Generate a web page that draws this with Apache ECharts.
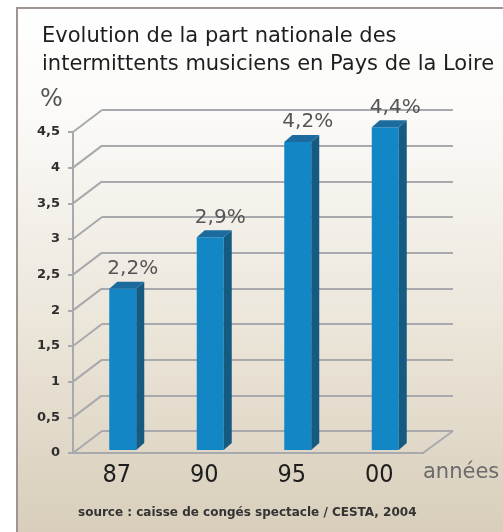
<!DOCTYPE html>
<html>
<head>
<meta charset="utf-8">
<script src="https://cdn.jsdelivr.net/npm/echarts@6/dist/echarts.min.js"></script>
<style>
  html, body { margin: 0; padding: 0; background: #fff; }
  #chart { width: 503px; height: 532px; }
</style>
</head>
<body>
<div id="chart"></div>
<script>
// données
var categories = ['87', '90', '95', '00'];
var values = [2.2, 2.9, 4.2, 4.4];
var yTicks = [0, 0.5, 1, 1.5, 2, 2.5, 3, 3.5, 4, 4.5];

var FONT = 'DejaVu Sans';
// profondeur de la perspective (px)
var DX = 29, DY = -22;

function virgule(v) {
    return String(v).replace('.', ',');
}

var myChart = echarts.init(document.getElementById('chart'));

var option = {
    backgroundColor: '#fff',
    animation: false,
    title: [
        {
            text: 'Evolution de la part nationale des\nintermittents musiciens en Pays de la Loire',
            left: 37,
            top: 18,
            textStyle: { fontFamily: FONT, fontSize: 21, fontWeight: 'normal', color: '#1e1e1e', lineHeight: 28 }
        },
        {
            text: 'source : caisse de congés spectacle / CESTA, 2004',
            left: 73,
            top: 502,
            textStyle: { fontFamily: FONT, fontSize: 12, fontWeight: 'bold', color: '#333' }
        }
    ],
    graphic: [
        {
            type: 'rect',
            z: -10,
            shape: { x: 17, y: 8, width: 520, height: 540 },
            style: {
                fill: new echarts.graphic.LinearGradient(0, 0, 0, 1, [
                    { offset: 0, color: '#ffffff' },
                    { offset: 0.2, color: '#fbfaf8' },
                    { offset: 0.6, color: '#ebe5d9' },
                    { offset: 1, color: '#d6ccb8' }
                ]),
                stroke: '#9e9490',
                lineWidth: 2
            }
        },
        {
            type: 'text',
            left: 40,
            top: 88,
            style: { text: '%', fontFamily: FONT, fontSize: 24, fill: '#555' }
        }
    ],
    grid: [
        // plan avant (axes)
        { left: 73, right: 80, top: 132, bottom: 79 },
        // plan arrière (lignes de grille)
        { left: 73 + DX, right: 50, top: 132 + DY, bottom: 79 - DY },
        // plan des barres
        { left: 79, right: 74, top: 120, bottom: 82 }
    ],
    xAxis: [
        {
            gridIndex: 0,
            type: 'category',
            data: categories,
            axisLine: { lineStyle: { color: '#a8a9ac', width: 2 } },
            axisTick: { length: 7, lineStyle: { color: '#a8a9ac', width: 2 } },
            axisLabel: { fontFamily: 'DejaVu Sans Condensed', fontSize: 25, color: '#1e1e1e', margin: 10 },
            name: 'années',
            nameLocation: 'end',
            nameGap: 0,
            nameTextStyle: { fontFamily: FONT, fontSize: 21, color: '#6b6b6b', align: 'left', verticalAlign: 'top', padding: [9, 0, 0, 0] }
        },
        { gridIndex: 1, type: 'value', show: false },
        { gridIndex: 2, type: 'category', data: categories, show: false }
    ],
    yAxis: [
        {
            gridIndex: 0,
            type: 'value',
            min: 0,
            max: 4.5,
            interval: 0.5,
            axisLine: { show: true, lineStyle: { color: '#a8a9ac', width: 2 } },
            axisTick: { show: true, length: 5, lineStyle: { color: '#a8a9ac', width: 2 } },
            axisLabel: { fontFamily: FONT, fontSize: 13, fontWeight: 'bold', color: '#2e2e2e', margin: 13, formatter: virgule },
            splitLine: { show: false }
        },
        {
            gridIndex: 1,
            type: 'value',
            min: 0,
            max: 4.5,
            interval: 0.5,
            axisLine: { show: false },
            axisTick: { show: false },
            axisLabel: { show: false },
            splitLine: { show: true, lineStyle: { color: '#a8a9ac', width: 2 } }
        },
        { gridIndex: 2, type: 'value', min: 0, max: 4.5, show: false }
    ],
    series: [
        {
            // diagonales entre l'axe avant et le plan arrière
            type: 'custom',
            xAxisIndex: 0,
            yAxisIndex: 0,
            z: 1,
            data: yTicks.map(function (v) { return [0, v]; }),
            renderItem: function (params, api) {
                var v = api.value(1);
                var p = api.coord([0, v]);
                var half = api.size([1, 0])[0] / 2;
                var x0 = p[0] - half;
                var style = { stroke: '#a8a9ac', lineWidth: 2 };
                var children = [{
                    type: 'line',
                    shape: { x1: x0, y1: p[1], x2: x0 + DX, y2: p[1] + DY },
                    style: style
                }];
                if (v === 0) {
                    var x1 = x0 + categories.length * half * 2;
                    children.push({
                        type: 'line',
                        shape: { x1: x1, y1: p[1], x2: x1 + DX + 1, y2: p[1] + DY },
                        style: style
                    });
                }
                return { type: 'group', children: children };
            }
        },
        {
            // barres en 3D
            type: 'custom',
            xAxisIndex: 2,
            yAxisIndex: 2,
            z: 5,
            data: values.map(function (v, i) { return [i, v]; }),
            renderItem: function (params, api) {
                var i = api.value(0);
                var v = api.value(1);
                var base = api.coord([i, 0]);
                var top = api.coord([i, v]);
                var w = 27, dx = 8, dy = -7;
                var x = base[0] - w / 2;
                return {
                    type: 'group',
                    children: [
                        {
                            type: 'rect',
                            shape: { x: x, y: top[1], width: w, height: base[1] - top[1] },
                            style: { fill: '#1386c5' }
                        },
                        {
                            type: 'polygon',
                            shape: { points: [[x + w, top[1]], [x + w + dx, top[1] + dy], [x + w + dx, base[1] + dy], [x + w, base[1]]] },
                            style: { fill: '#155a80' }
                        },
                        {
                            type: 'polygon',
                            shape: { points: [[x, top[1]], [x + dx, top[1] + dy], [x + w + dx, top[1] + dy], [x + w, top[1]]] },
                            style: { fill: '#1c6b9e' }
                        },
                        {
                            type: 'text',
                            x: base[0] + 10,
                            y: top[1] + dy - 3,
                            style: {
                                text: virgule(v) + '%',
                                fontFamily: FONT,
                                fontSize: 20,
                                fill: '#555',
                                align: 'center',
                                verticalAlign: 'bottom'
                            }
                        }
                    ]
                };
            }
        }
    ]
};

myChart.setOption(option);
</script>
</body>
</html>
